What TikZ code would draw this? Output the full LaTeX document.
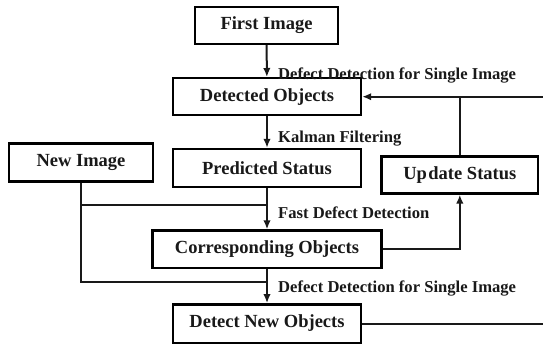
\documentclass[tikz,border=0pt]{standalone}
\usepackage{fontspec}
\setmainfont{Liberation Serif}
\usetikzlibrary{arrows.meta}

\tikzset{
  box/.style={draw, line width=2.4pt, fill=white, inner sep=0pt,
    font=\fontsize{18.5}{20}\selectfont\bfseries, text=black!90},
  lbl/.style={anchor=west, inner sep=0pt,
    font=\fontsize{16.6}{18}\selectfont\bfseries, text=black!90},
  link/.style={line width=2pt, draw=black!90},
  flow/.style={link, -{Latex[length=9pt,width=7.5pt]}},
}

\begin{document}
\begin{tikzpicture}[x=1pt, y=-1pt]
  \useasboundingbox (0,0) rectangle (543,348);
  \clip (0,0) rectangle (543,348);

  % process boxes
  \node[box, minimum width=143pt, minimum height=37pt] (first) at (266.5,25.5) {First Image};
  \node[box, minimum width=188pt, minimum height=37pt] (det)   at (267,96.7)   {Detected Objects};
  \node[box, minimum width=188pt, minimum height=38pt] (pred)  at (267,168)    {Predicted Status};
  \node[box, minimum width=144pt, minimum height=38pt] (new)   at (81,162.5)   {New Image};
  \node[box, minimum width=156.5pt, minimum height=37pt] (upd) at (459.8,175)  {Up\kern1.5pt date Status};
  \node[box, minimum width=229pt, minimum height=37.5pt] (corr) at (267,249.3) {Corresponding Objects};
  \node[box, minimum width=187.5pt, minimum height=38.4pt] (dno) at (267,323.5) {Detect New Objects};

  % junction points on the main column
  \coordinate (j1) at (267,205);
  \coordinate (j2) at (267,282);
  \coordinate (rail) at (548,0);

  % main column
  \draw[flow] (first) -- (det);
  \draw[flow] (det) -- (pred);
  \draw[link] (pred.south) -- (j1);
  \draw[flow] (j1) -- (corr.north);
  \draw[link] (corr.south) -- (j2);
  \draw[flow] (j2) -- (dno.north);

  % new image feeds both detection steps
  \draw[link] (new.south) |- (j1);
  \draw[link] (new.south) |- (j2);

  % status update loop
  \draw[flow] (corr.east) -| (upd.south);
  \draw[link] (upd.north) -- (upd.north |- det.east);
  \draw[flow] (dno.east) -| (rail) |- (det.east);

  % step labels
  \node[lbl] (l1) at (278,75)  {Defect Detection for Single Image};
  \node[lbl] (l2) at (278,139) {Kalman Filtering};
  \node[lbl] (l3) at (278,213) {Fast Defect Detection};
  \node[lbl] (l4) at (278,288) {Defect Detection for Single Image};
\end{tikzpicture}
\end{document}
